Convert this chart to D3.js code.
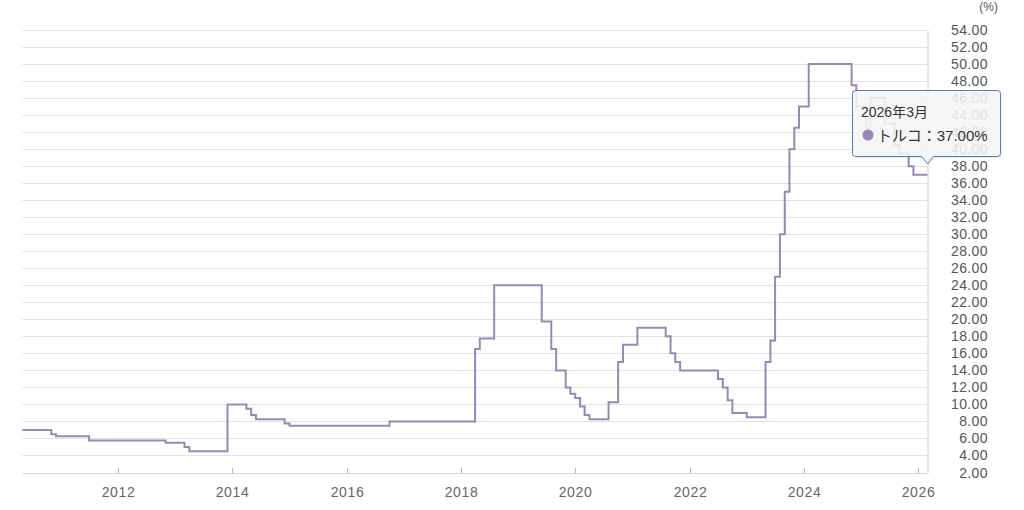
<!DOCTYPE html>
<html>
<head>
<meta charset="utf-8">
<script src="https://cdn.jsdelivr.net/npm/d3@7"></script>
<style>
html,body{margin:0;padding:0;background:#fff;}
svg{display:block;font-family:"Liberation Sans",Arial,"Noto Sans CJK JP",sans-serif;}
</style>
</head>
<body>
<svg id="chart" width="1024" height="510"></svg>
<script>
// Monthly policy rate (%) from 2010-05 to 2026-03
const startMonth = "2010-05";
const endMonth = "2026-03";
const values2010 = [7, 7, 7, 7, 7, 7, 7, 6.5]; // May-Dec
const values2011 = [6.25, 6.25, 6.25, 6.25, 6.25, 6.25, 6.25, 5.75, 5.75, 5.75, 5.75, 5.75];
const values2012 = [5.75, 5.75, 5.75, 5.75, 5.75, 5.75, 5.75, 5.75, 5.75, 5.75, 5.75, 5.5];
const values2013 = [5.5, 5.5, 5.5, 5.0, 4.5, 4.5, 4.5, 4.5, 4.5, 4.5, 4.5, 4.5];
const values2014 = [10, 10, 10, 10, 9.5, 8.75, 8.25, 8.25, 8.25, 8.25, 8.25, 8.25];
const values2015 = [7.75, 7.5, 7.5, 7.5, 7.5, 7.5, 7.5, 7.5, 7.5, 7.5, 7.5, 7.5];
const values2016 = [7.5, 7.5, 7.5, 7.5, 7.5, 7.5, 7.5, 7.5, 7.5, 7.5, 8, 8];
const values2017 = [8, 8, 8, 8, 8, 8, 8, 8, 8, 8, 8, 8];
const values2018 = [8, 8, 8, 8, 16.5, 17.75, 17.75, 17.75, 24, 24, 24, 24];
const values2019 = [24, 24, 24, 24, 24, 24, 19.75, 19.75, 16.5, 14, 14, 12];
const values2020 = [11.25, 10.75, 9.75, 8.75, 8.25, 8.25, 8.25, 8.25, 10.25, 10.25, 15, 17];
const values2021 = [17, 17, 19, 19, 19, 19, 19, 19, 18, 16, 15, 14];
const values2022 = [14, 14, 14, 14, 14, 14, 14, 13, 12, 10.5, 9, 9];
const values2023 = [9, 8.5, 8.5, 8.5, 8.5, 15, 17.5, 25, 30, 35, 40, 42.5];
const values2024 = [45, 45, 50, 50, 50, 50, 50, 50, 50, 50, 50, 47.5];
const values2025 = [45, 45, 42.5, 46, 46, 46, 43, 43, 40.5, 39.5, 39.5, 38];
const values2026 = [37, 37, 37]; // Jan-Mar

const seriesName = "トルコ";
const yTicks = d3.range(2, 54.01, 2);
const xTickYears = [2012, 2014, 2016, 2018, 2020, 2022, 2024, 2026];
const tooltipTitle = "2026年3月";

const allValues = [].concat(values2010, values2011, values2012, values2013, values2014,
  values2015, values2016, values2017, values2018, values2019, values2020, values2021,
  values2022, values2023, values2024, values2025, values2026);
const parseM = d3.timeParse("%Y-%m");
const months = d3.timeMonths(parseM(startMonth), d3.timeMonth.offset(parseM(endMonth), 1));
const data = months.map((d, i) => ({date: d, value: allValues[i]}));

const svg = d3.select("#chart");
const plotL = 22.5, plotR = 927.5, plotT = 30, plotB = 472.5;

const x = d3.scaleTime().domain([parseM(startMonth), parseM(endMonth)]).range([plotL, plotR]);
const y = d3.scaleLinear().domain([2, 54]).range([plotB, plotT]);

// grid lines
svg.append("g").selectAll("line").data(yTicks).join("line")
  .attr("x1", plotL).attr("x2", plotR)
  .attr("y1", d => Math.round(y(d)) + 0.5).attr("y2", d => Math.round(y(d)) + 0.5)
  .attr("stroke", "#e2e2e2").attr("stroke-width", 1);

// right axis line
svg.append("line").attr("x1", plotR + 0.5).attr("x2", plotR + 0.5)
  .attr("y1", Math.round(y(54)) + 0.5).attr("y2", Math.round(y(2)) + 0.5)
  .attr("stroke", "#cfcfcf");

// bottom axis baseline
svg.append("line").attr("x1", plotL).attr("x2", plotR)
  .attr("y1", Math.round(y(2)) + 0.5).attr("y2", Math.round(y(2)) + 0.5)
  .attr("stroke", "#d6d6d6");

// x ticks
const xg = svg.append("g");
xTickYears.forEach(yr => {
  const xx = Math.round(x(new Date(yr, 0, 1))) + 0.5;
  xg.append("line").attr("x1", xx).attr("x2", xx)
    .attr("y1", Math.round(y(2)) - 5).attr("y2", Math.round(y(2)))
    .attr("stroke", "#b8b8b8");
  xg.append("text").attr("x", xx).attr("y", 497)
    .attr("text-anchor", "middle").attr("font-size", 14).attr("letter-spacing", 0.6)
    .attr("fill", "#666")
    .text(yr);
});

// y labels
svg.append("g").selectAll("text").data(yTicks).join("text")
  .attr("x", 988).attr("y", d => y(d) + 5)
  .attr("text-anchor", "end").attr("font-size", 14).attr("letter-spacing", 0.4)
  .attr("fill", "#555")
  .text(d => d3.format(".2f")(d));

svg.append("text").attr("x", 998).attr("y", 11).attr("text-anchor", "end")
  .attr("font-size", 12).attr("fill", "#555").text("(%)");

// line
const line = d3.line().x(d => x(d.date)).y(d => y(d.value)).curve(d3.curveStepBefore);
svg.append("path").datum(data).attr("d", line)
  .attr("fill", "none").attr("stroke", "#9a86b9").attr("stroke-width", 2)
  .attr("stroke-linejoin", "miter");

// tooltip
const last = data[data.length - 1];
const tipX = x(last.date), tipY = y(last.value) - 11;
const bx0 = 852.5, bx1 = 1000.5, by0 = 90.5, by1 = 156.5;
const tip = svg.append("g");
const path = `M${bx0 + 3},${by0} H${bx1 - 3} Q${bx1},${by0} ${bx1},${by0 + 3} V${by1 - 3} Q${bx1},${by1} ${bx1 - 3},${by1}
 H${tipX + 6} L${tipX},${tipY} L${tipX - 6},${by1} H${bx0 + 3} Q${bx0},${by1} ${bx0},${by1 - 3} V${by0 + 3} Q${bx0},${by0} ${bx0 + 3},${by0} Z`;
tip.append("path").attr("d", path).attr("transform", "translate(1,1.5)")
  .attr("fill", "rgba(0,0,0,0.08)");
tip.append("path").attr("d", path)
  .attr("fill", "rgba(248,248,248,0.86)").attr("stroke", "#4f7eb3").attr("stroke-width", 1);
tip.append("text").attr("x", 861).attr("y", 117).attr("font-size", 14).attr("fill", "#333")
  .text(tooltipTitle);
tip.append("circle").attr("cx", 868).attr("cy", 135).attr("r", 5.5).attr("fill", "#9a86b9");
tip.append("text").attr("x", 877).attr("y", 140.5).attr("font-size", 15).attr("fill", "#333")
  .text(seriesName + "：" + d3.format(".2f")(last.value) + "%");
</script>
</body>
</html>
